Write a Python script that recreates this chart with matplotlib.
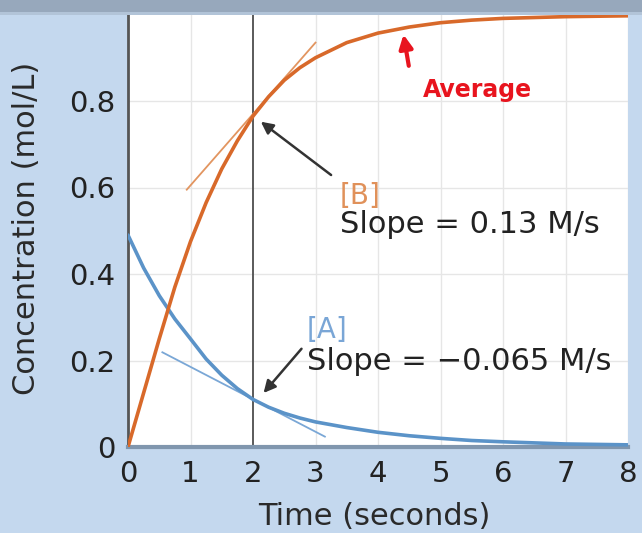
import matplotlib
matplotlib.use("Agg")
import matplotlib.pyplot as plt
from matplotlib.patches import Rectangle

# ---- data ----
time_s = [0, 0.25, 0.5, 0.75, 1, 1.25, 1.5, 1.75, 2, 2.25, 2.5, 2.75, 3,
          3.5, 4, 4.5, 5, 5.5, 6, 7, 8]
conc_A = [0.49, 0.414, 0.35, 0.296, 0.25, 0.2035, 0.166, 0.135, 0.11, 0.092, 0.078, 0.067, 0.058,
          0.045, 0.034, 0.026, 0.02, 0.015, 0.012, 0.007, 0.005]
conc_B = [0.0, 0.125, 0.25, 0.37, 0.475, 0.565, 0.643, 0.708, 0.765, 0.81, 0.848, 0.877, 0.9,
          0.935, 0.957, 0.971, 0.981, 0.987, 0.991, 0.995, 0.997]

tangent_A_x = [0.55, 3.15]
tangent_A_y = [0.219, 0.024]
tangent_B_x = [0.94, 3.0]
tangent_B_y = [0.595, 0.935]

marker_time = 2
x_ticks = [0, 1, 2, 3, 4, 5, 6, 7, 8]
y_ticks = [0, 0.2, 0.4, 0.6, 0.8]
y_tick_labels = ["0", "0.2", "0.4", "0.6", "0.8"]

label_B = "[B]"
slope_B = "Slope = 0.13 M/s"
label_A = "[A]"
slope_A = "Slope = \u22120.065 M/s"
note_text = "Average"

# ---- figure ----
W, H = 642, 533
fig = plt.figure(figsize=(W / 100, H / 100), dpi=100)
bg = "#c4d8ee"
fig.patch.set_facecolor(bg)
# blurred strip at the top of the screenshot
fig.patches.append(Rectangle((0, 1 - 12 / H), 1, 12 / H, transform=fig.transFigure,
                             facecolor="#97a8bc", edgecolor="none", zorder=0))
fig.patches.append(Rectangle((0, 1 - 15 / H), 1, 3 / H, transform=fig.transFigure,
                             facecolor="#b2c4d8", edgecolor="none", zorder=0))

ax = fig.add_axes([128 / W, 86 / H, 500 / W, 432.5 / H])
ax.set_facecolor("white")
ax.set_xlim(0, 8)
ax.set_ylim(0, 1.0)

# grid
for xv in x_ticks[1:]:
    if xv != marker_time:
        ax.axvline(xv, color="#e6e6e6", lw=1.0, zorder=1)
for yv in y_ticks[1:]:
    ax.axhline(yv, color="#e6e6e6", lw=1.0, zorder=1)

ax.axvline(marker_time, color="#5a5a5a", lw=1.4, zorder=2)

# curves
ax.plot(time_s, conc_A, color="#5b93c8", lw=2.6, solid_capstyle="round",
        solid_joinstyle="round", zorder=4)
ax.plot(time_s, conc_B, color="#d8692a", lw=2.6, solid_capstyle="round",
        solid_joinstyle="round", zorder=4)
ax.plot(tangent_A_x, tangent_A_y, color="#7aa7d6", lw=1.3, zorder=3)
ax.plot(tangent_B_x, tangent_B_y, color="#e29560", lw=1.3, zorder=3)

# spines and ticks
for s in ["top", "right"]:
    ax.spines[s].set_visible(False)
ax.spines["left"].set_color("#555555")
ax.spines["left"].set_linewidth(2.0)
ax.spines["bottom"].set_color("#8096ae")
ax.spines["bottom"].set_linewidth(3.0)
ax.set_xticks(x_ticks)
ax.set_xticklabels([str(v) for v in x_ticks])
ax.set_yticks(y_ticks)
ax.set_yticklabels(y_tick_labels)
ax.tick_params(axis="both", length=0, labelsize=21, colors="#222222")
ax.tick_params(axis="x", pad=9)
ax.tick_params(axis="y", pad=9)

fig.text(27 / W, 1 - 228 / H, "Concentration (mol/L)", rotation=90, ha="center", va="center",
         fontsize=22, color="#2a2a2a")
fig.text(374 / W, 8 / H, "Time (seconds)", ha="center", va="baseline",
         fontsize=22, color="#2a2a2a")

# annotations
ax.text(3.38, 0.562, label_B, color="#e0915a", fontsize=20, ha="left", va="baseline", zorder=5)
ax.text(3.40, 0.495, slope_B, color="#222222", fontsize=22, ha="left", va="baseline", zorder=5)
ax.text(2.86, 0.252, label_A, color="#7aa6d6", fontsize=20, ha="left", va="baseline", zorder=5)
ax.text(2.87, 0.178, slope_A, color="#222222", fontsize=22, ha="left", va="baseline", zorder=5,
        clip_on=False)

ax.annotate("", xy=(2.09, 0.756), xytext=(3.285, 0.625),
            arrowprops=dict(arrowstyle="-|>", color="#333333", lw=1.8, mutation_scale=18), zorder=5)
ax.annotate("", xy=(2.14, 0.120), xytext=(2.805, 0.232),
            arrowprops=dict(arrowstyle="-|>", color="#333333", lw=1.8, mutation_scale=18), zorder=5)

# handwritten note
ax.annotate("", xy=(4.4, 0.96), xytext=(4.5, 0.875),
            arrowprops=dict(arrowstyle="-|>", color="#e8141e", lw=3, mutation_scale=20), zorder=6)
ax.text(4.72, 0.825, note_text, color="#e8141e", fontsize=17, fontweight="bold",
        ha="left", va="center", zorder=6)

fig.savefig("out.png", dpi=100, facecolor=fig.get_facecolor())
